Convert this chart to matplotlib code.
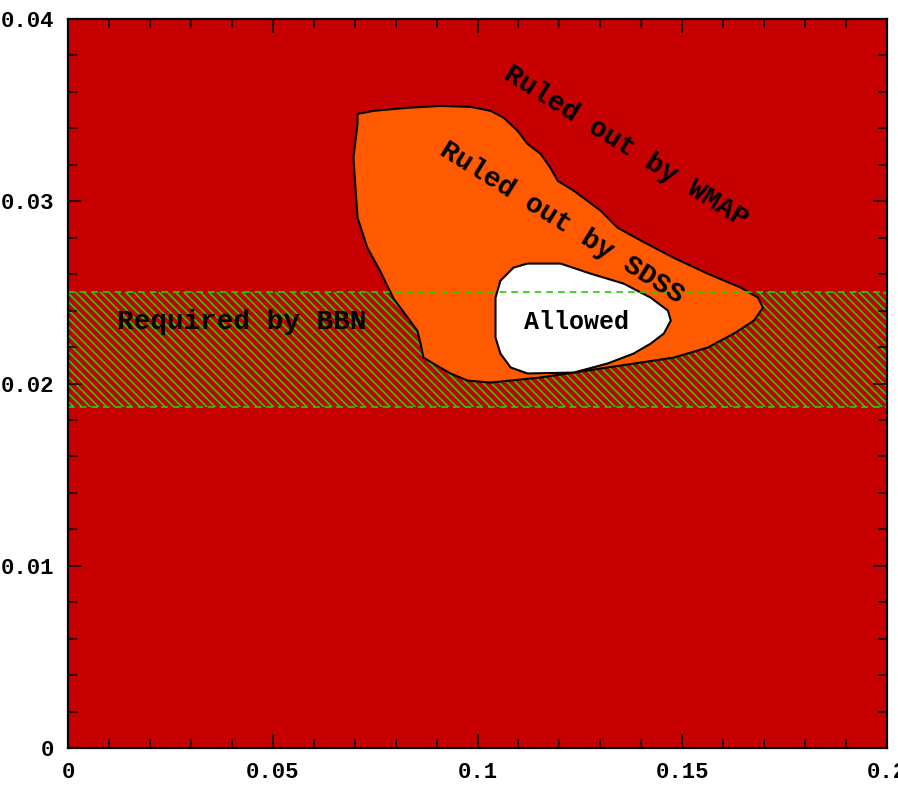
import matplotlib
matplotlib.use("Agg")
import matplotlib.pyplot as plt
from matplotlib.ticker import MultipleLocator

# allowed region boundaries in the (omega_b h^2 vs omega_m h^2)-style plane
WMAP_X = [0.0707, 0.0746, 0.0824, 0.0910, 0.0983, 0.1032, 0.1064, 0.1098, 0.1122, 0.1154,
          0.1178, 0.1196, 0.1235, 0.1301, 0.1342, 0.1399, 0.1479, 0.1562, 0.1643, 0.1685,
          0.1697, 0.1675, 0.1626, 0.1562, 0.1479, 0.1318, 0.1154, 0.1032, 0.0976, 0.0934,
          0.0892, 0.0868, 0.0861, 0.0853, 0.0824, 0.0795, 0.0763, 0.0731, 0.0707, 0.0697,
          0.0707]
WMAP_Y = [0.03479, 0.03496, 0.03512, 0.03523, 0.03518, 0.03496, 0.03458, 0.03386, 0.03315, 0.03260,
          0.03184, 0.03112, 0.03058, 0.02948, 0.02855, 0.02784, 0.02690, 0.02603, 0.02526, 0.02471,
          0.02416, 0.02345, 0.02274, 0.02197, 0.02142, 0.02088, 0.02033, 0.02005, 0.02016, 0.02055,
          0.02110, 0.02142, 0.02219, 0.02290, 0.02378, 0.02466, 0.02614, 0.02745, 0.02910, 0.03238,
          0.03425]

ALLOWED_X = [0.1088, 0.1122, 0.1203, 0.1276, 0.1357, 0.1423, 0.1465, 0.1472, 0.1455, 0.1423,
             0.1381, 0.1318, 0.1235, 0.1122, 0.1081, 0.1056, 0.1044, 0.1044, 0.1056]
ALLOWED_Y = [0.02636, 0.02658, 0.02658, 0.02603, 0.02548, 0.02471, 0.02400, 0.02345, 0.02274, 0.02219,
             0.02164, 0.02110, 0.02060, 0.02055, 0.02088, 0.02164, 0.02252, 0.02471, 0.02564]

BBN_LO, BBN_HI = 0.0187, 0.0250

XTICKS = [0, 0.05, 0.1, 0.15, 0.2]
XTICKLABELS = ["0", "0.05", "0.1", "0.15", "0.2"]
YTICKS = [0, 0.01, 0.02, 0.03, 0.04]
YTICKLABELS = ["0", "0.01", "0.02", "0.03", "0.04"]

RED = "#C60000"
ORANGE = "#FF5A00"
GREEN = "#22D000"
FONT = "Liberation Mono"

plt.rcParams["hatch.linewidth"] = 1.2

fig = plt.figure(figsize=(8.98, 7.85), dpi=100)
ax = fig.add_axes([68 / 898, 1 - 748 / 785, 819 / 898, 729 / 785])
ax.set_facecolor(RED)
ax.set_xlim(0, 0.2)
ax.set_ylim(0, 0.04)

# BBN band: hatched under the contours, dashed edges on top
ax.fill_between([0, 0.2], BBN_LO, BBN_HI, facecolor="none", edgecolor=GREEN,
                hatch="\\\\\\\\", linewidth=0, zorder=1)
ax.fill(WMAP_X, WMAP_Y, facecolor=ORANGE, edgecolor="black", linewidth=1.5, zorder=2)
ax.fill(ALLOWED_X, ALLOWED_Y, facecolor="white", edgecolor="black", linewidth=1.5, zorder=3)
for yb in (BBN_LO, BBN_HI):
    ax.axhline(yb, color=GREEN, lw=1.2, ls=(0, (4, 3)), zorder=4)

txt = dict(family=FONT, fontweight="bold", color="black", ha="center", va="center",
           rotation_mode="anchor", zorder=5)
ax.text(0.1362, 0.0330, "Ruled out by WMAP", fontsize=20, rotation=-32, **txt)
ax.text(0.1205, 0.0288, "Ruled out by SDSS", fontsize=20, rotation=-32, **txt)
ax.text(0.1242, 0.0234, "Allowed", fontsize=18, **txt)
ax.text(0.0425, 0.0234, "Required by BBN", fontsize=20, **txt)

ax.set_xticks(XTICKS)
ax.set_xticklabels(XTICKLABELS)
ax.set_yticks(YTICKS)
ax.set_yticklabels(YTICKLABELS)
ax.xaxis.set_minor_locator(MultipleLocator(0.01))
ax.yaxis.set_minor_locator(MultipleLocator(0.002))
ax.tick_params(which="both", direction="in", top=True, right=True, width=1.1, color="black")
ax.tick_params(which="major", length=10, pad=10)
ax.tick_params(which="minor", length=6.5)
for lab in ax.get_xticklabels() + ax.get_yticklabels():
    lab.set_family(FONT)
    lab.set_fontweight("bold")
    lab.set_fontsize(16)
for sp in ax.spines.values():
    sp.set_linewidth(1.6)
    sp.set_zorder(6)

fig.savefig("out.png", dpi=100)
